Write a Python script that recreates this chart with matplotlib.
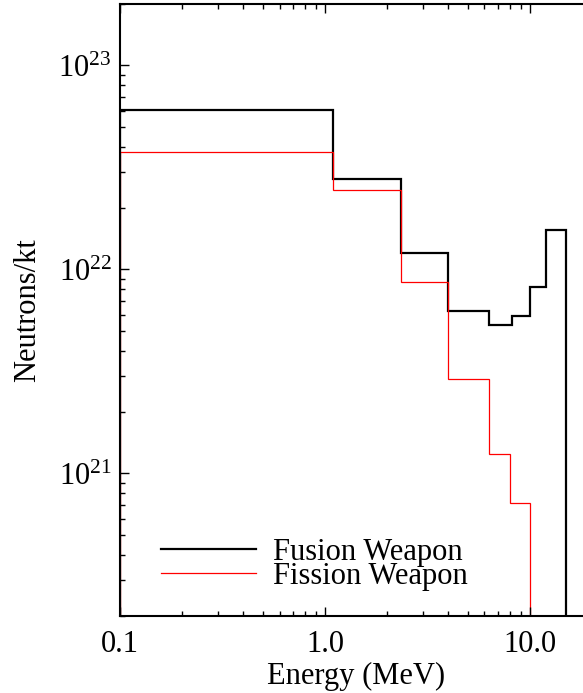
import numpy as np
import matplotlib
matplotlib.use('Agg')
import matplotlib.pyplot as plt
import matplotlib.ticker as mticker

plt.rcParams['font.family'] = ['Liberation Serif', 'DejaVu Serif']
plt.rcParams['mathtext.fontset'] = 'custom'
plt.rcParams['mathtext.rm'] = 'Liberation Serif'
plt.rcParams['mathtext.it'] = 'Liberation Serif:italic'

# energy bin edges (MeV) and neutron yields per kt
fusion_edges = [0.1, 1.1, 2.35, 4.0, 6.3, 8.2, 10.0, 12.0, 15.0]
fusion_vals = [6.06e22, 2.77e22, 1.20e22, 6.27e21, 5.33e21, 5.89e21, 8.2e21, 1.56e22]

fission_edges = [0.1, 1.1, 2.35, 4.0, 6.3, 8.0, 10.0]
fission_vals = [3.76e22, 2.46e22, 8.63e21, 2.9e21, 1.25e21, 7.2e20]

fig = plt.figure(figsize=(5.83, 6.93), dpi=100)
ax = fig.add_axes([0.2058, 0.1111, 0.8091, 0.8831])

ax.stairs(fusion_vals, fusion_edges, baseline=1e19, color='black', linewidth=1.6, label='Fusion Weapon')
ax.stairs(fission_vals, fission_edges, baseline=1e19, color='red', linewidth=0.9, label='Fission Weapon')

ax.set_xscale('log')
ax.set_yscale('log')
ax.set_xlim(0.1, 20)
ax.set_ylim(2e20, 2e23)

ax.xaxis.set_major_locator(mticker.FixedLocator([0.1, 1.0, 10.0]))
ax.xaxis.set_major_formatter(mticker.FixedFormatter(['0.1', '1.0', '10.0']))
ax.xaxis.set_minor_locator(mticker.LogLocator(base=10, subs=np.arange(2, 10)))
ax.xaxis.set_minor_formatter(mticker.NullFormatter())
ax.yaxis.set_major_locator(mticker.FixedLocator([1e21, 1e22, 1e23]))
ax.yaxis.set_major_formatter(mticker.FixedFormatter([r'$10^{21}$', r'$10^{22}$', r'$10^{23}$']))
ax.yaxis.set_minor_locator(mticker.LogLocator(base=10, subs=np.arange(2, 10)))
ax.yaxis.set_minor_formatter(mticker.NullFormatter())

ax.tick_params(which='both', direction='in', top=True, right=True, labelsize=22, width=1.0)
ax.tick_params(which='major', length=6.5)
ax.tick_params(axis='x', which='major', pad=10)
ax.tick_params(axis='y', which='major', pad=6)
ax.tick_params(which='minor', length=3.6)
for s in ax.spines.values():
    s.set_linewidth(1.5)

ax.set_xlabel('Energy (MeV)', fontsize=22, labelpad=2)
ax.set_ylabel('Neutrons/kt', fontsize=22, labelpad=12)

ax.legend(loc='lower left', bbox_to_anchor=(0.055, 0.016), frameon=False, fontsize=22,
          handlelength=3.1, handletextpad=0.55, labelspacing=-0.15, borderpad=0)

fig.savefig('out.png', dpi=100)
